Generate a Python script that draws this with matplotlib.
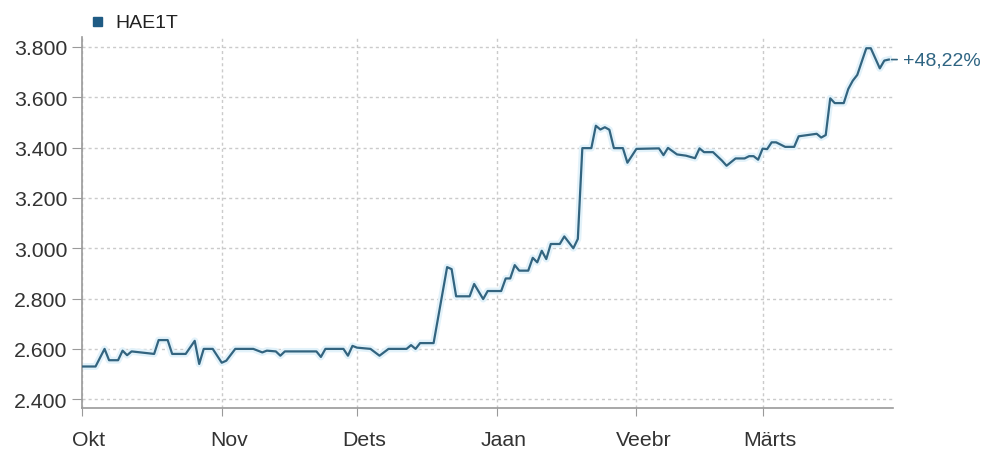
import matplotlib
matplotlib.use("Agg")
import matplotlib.pyplot as plt
import matplotlib.transforms as mtransforms
from matplotlib.patches import Rectangle
import pandas as pd

plt.rcParams["font.family"] = ["Liberation Sans", "DejaVu Sans"]

# HAE1T hinnad (loetud pildilt)
kuupaevad = [
    "2010-10-01", "2010-10-04", "2010-10-06", "2010-10-07", "2010-10-09", "2010-10-10",
    "2010-10-11", "2010-10-12", "2010-10-17", "2010-10-18", "2010-10-20", "2010-10-21",
    "2010-10-24", "2010-10-26", "2010-10-27", "2010-10-28", "2010-10-30", "2010-11-01",
    "2010-11-02", "2010-11-04", "2010-11-08", "2010-11-10", "2010-11-11", "2010-11-13",
    "2010-11-14", "2010-11-15", "2010-11-22", "2010-11-23", "2010-11-24", "2010-11-28",
    "2010-11-29", "2010-11-30", "2010-12-01", "2010-12-04", "2010-12-06", "2010-12-08",
    "2010-12-12", "2010-12-13", "2010-12-14", "2010-12-15", "2010-12-18", "2010-12-21",
    "2010-12-22", "2010-12-23", "2010-12-26", "2010-12-27", "2010-12-29", "2010-12-30",
    "2011-01-02", "2011-01-03", "2011-01-04", "2011-01-05", "2011-01-06", "2011-01-08",
    "2011-01-09", "2011-01-10", "2011-01-11", "2011-01-12", "2011-01-13", "2011-01-15",
    "2011-01-16", "2011-01-18", "2011-01-19", "2011-01-20", "2011-01-22", "2011-01-23",
    "2011-01-24", "2011-01-25", "2011-01-26", "2011-01-27", "2011-01-29", "2011-01-30",
    "2011-02-01", "2011-02-06", "2011-02-07", "2011-02-08", "2011-02-10", "2011-02-12",
    "2011-02-14", "2011-02-15", "2011-02-16", "2011-02-18", "2011-02-20", "2011-02-21",
    "2011-02-23", "2011-02-25", "2011-02-26", "2011-02-27", "2011-02-28", "2011-03-01",
    "2011-03-02", "2011-03-03", "2011-03-04", "2011-03-06", "2011-03-08", "2011-03-09",
    "2011-03-11", "2011-03-13", "2011-03-14", "2011-03-15", "2011-03-16", "2011-03-17",
    "2011-03-19", "2011-03-20", "2011-03-21", "2011-03-22", "2011-03-24", "2011-03-25",
    "2011-03-26", "2011-03-27", "2011-03-28", "2011-03-29",
]
hinnad = [
    2.530, 2.530, 2.600, 2.555, 2.555, 2.593,
    2.575, 2.590, 2.580, 2.635, 2.635, 2.580,
    2.580, 2.632, 2.540, 2.600, 2.600, 2.545,
    2.553, 2.600, 2.600, 2.586, 2.593, 2.590,
    2.573, 2.590, 2.590, 2.568, 2.600, 2.600,
    2.573, 2.612, 2.605, 2.600, 2.573, 2.600,
    2.600, 2.615, 2.600, 2.623, 2.623, 2.925,
    2.917, 2.809, 2.809, 2.858, 2.798, 2.830,
    2.830, 2.880, 2.880, 2.933, 2.911, 2.911,
    2.962, 2.944, 2.990, 2.957, 3.017, 3.017,
    3.047, 3.000, 3.037, 3.398, 3.398, 3.487,
    3.472, 3.481, 3.471, 3.398, 3.398, 3.340,
    3.395, 3.397, 3.370, 3.399, 3.373, 3.368,
    3.358, 3.397, 3.382, 3.382, 3.348, 3.328,
    3.357, 3.357, 3.366, 3.366, 3.352, 3.396,
    3.394, 3.421, 3.421, 3.403, 3.403, 3.445,
    3.450, 3.455, 3.440, 3.450, 3.596, 3.577,
    3.577, 3.633, 3.666, 3.689, 3.795, 3.795,
    3.755, 3.715, 3.746, 3.750,
]
kuud = ["2010-10-01", "2010-11-01", "2010-12-01", "2011-01-01", "2011-02-01", "2011-03-01"]
kuu_nimed = ["Okt", "Nov", "Dets", "Jaan", "Veebr", "Märts"]
y_tikid = [2.4, 2.6, 2.8, 3.0, 3.2, 3.4, 3.6, 3.8]

x = pd.to_datetime(kuupaevad)
joone_v = "#33647f"

fig = plt.figure(figsize=(9.87, 4.52), dpi=100)
ax = fig.add_axes([0.0831, 0.0951, 0.822, 0.821])

ax.plot(x, hinnad, color="#e2f2fa", lw=5, solid_joinstyle="round", zorder=2)
ax.plot(x, hinnad, color=joone_v, lw=1.6, zorder=3)

ax.set_xlim(pd.Timestamp("2010-10-01"), pd.Timestamp("2011-03-30"))
ax.set_ylim(2.365, 3.840)

ax.set_yticks(y_tikid)
ax.set_yticklabels([f"{v:.3f}" for v in y_tikid])
ax.set_xticks(pd.to_datetime(kuud))
ax.set_xticklabels(kuu_nimed)

ax.grid(True, color="#cbcbcb", linestyle=(0, (2.2, 2.2)), linewidth=1)
for s in ["top", "right"]:
    ax.spines[s].set_visible(False)
for s in ["left", "bottom"]:
    ax.spines[s].set_color("#9a9a9a")
    ax.spines[s].set_linewidth(1.2)
ax.tick_params(axis="y", length=7, color="#9a9a9a", labelsize=15.3, labelcolor="#333333", pad=3.5)
ax.tick_params(axis="x", length=6, color="#9a9a9a", labelsize=15.3, labelcolor="#333333", pad=10)

# x siltide nihe paremale
nihe = mtransforms.ScaledTranslation(7 / 100, 0, fig.dpi_scale_trans)
for lab in ax.get_xticklabels():
    lab.set_transform(lab.get_transform() + nihe)

# legend
fig.patches.append(Rectangle((93 / 987, 1 - 27 / 452), 9 / 987, 9 / 452,
                             transform=fig.transFigure, color="#1f5b84", figure=fig))
fig.text(115 / 987, 1 - 23 / 452, "HAE1T", color="#222222", fontsize=14, va="center", ha="left")

# muutus
muutus = (hinnad[-1] / hinnad[0] - 1) * 100
ax.annotate("", xy=(x[-1], hinnad[-1]), xytext=(8, 0), textcoords="offset points",
            arrowprops=dict(arrowstyle="-", color=joone_v, lw=1.2), annotation_clip=False)
ax.annotate("+" + f"{muutus:.2f}".replace(".", ",") + "%", xy=(x[-1], hinnad[-1]),
            xytext=(10.5, 0), textcoords="offset points", va="center", ha="left",
            fontsize=14, color="#2e6482", annotation_clip=False)

fig.savefig("out.png", dpi=100)
